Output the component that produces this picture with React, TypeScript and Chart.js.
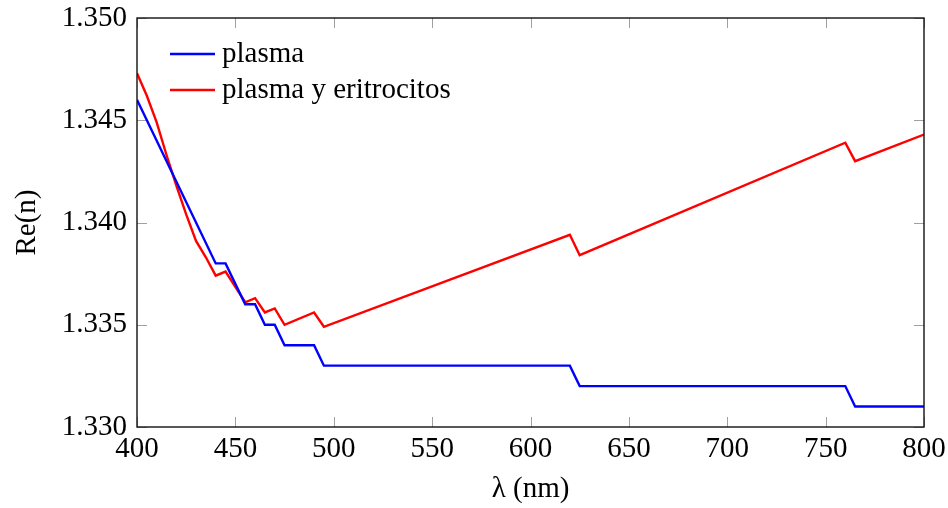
import React, { useEffect, useRef } from "react";
import { Chart, registerables } from "chart.js";

Chart.register(...registerables);

// ---- data ----
const plasmaWavelengths = [400, 440, 445, 455, 460, 465, 470, 475, 490, 495, 620, 625, 760, 765, 800];
const plasmaValues = [1.346, 1.338, 1.338, 1.336, 1.336, 1.335, 1.335, 1.334, 1.334, 1.333, 1.333, 1.332, 1.332, 1.331, 1.331];

const bloodWavelengths = [400, 405, 410, 415, 420, 425, 430, 435, 440, 445, 455, 460, 465, 470, 475, 490, 495, 620, 625, 760, 765, 800];
const bloodValues = [1.3473, 1.3462, 1.3449, 1.3433, 1.3418, 1.3404, 1.3391, 1.3383, 1.3374, 1.3376, 1.3361, 1.3363, 1.3356, 1.3358, 1.335, 1.3356, 1.3349, 1.3394, 1.3384, 1.3439, 1.343, 1.3443];

const seriesLabels = ["plasma", "plasma y eritrocitos"];
const seriesColors = ["#0000ff", "#ff0000"];
const xTitle = "λ (nm)";
const yTitle = "Re(n)";

const FONT = "'Liberation Serif', 'DejaVu Serif', serif";
const FS = 29;

const zeroPad = (s: any) => {
  s.paddingLeft = 0;
  s.paddingRight = 0;
  s.paddingTop = 0;
  s.paddingBottom = 0;
};

const framePlugin = {
  id: "frameTicks",
  beforeDatasetsDraw(chart: any) {
    const { ctx, chartArea: a, scales } = chart;
    ctx.save();
    ctx.strokeStyle = "#a0a0a0";
    ctx.lineWidth = 1;
    const L = 10;
    scales.x.ticks.forEach((t: any) => {
      const px = Math.round(scales.x.getPixelForValue(t.value)) + 0.5;
      ctx.beginPath();
      ctx.moveTo(px, a.bottom);
      ctx.lineTo(px, a.bottom - L);
      ctx.moveTo(px, a.top);
      ctx.lineTo(px, a.top + L);
      ctx.stroke();
    });
    scales.y.ticks.forEach((t: any) => {
      const py = Math.round(scales.y.getPixelForValue(t.value)) + 0.5;
      ctx.beginPath();
      ctx.moveTo(a.left, py);
      ctx.lineTo(a.left + L, py);
      ctx.moveTo(a.right, py);
      ctx.lineTo(a.right - L, py);
      ctx.stroke();
    });
    ctx.restore();
  },
  afterDraw(chart: any) {
    const { ctx, chartArea: a } = chart;
    ctx.save();
    ctx.strokeStyle = "#111";
    ctx.lineWidth = 1.4;
    ctx.strokeRect(a.left, a.top, a.right - a.left, a.bottom - a.top);
    // legend
    ctx.font = `${FS}px ${FONT}`;
    ctx.textBaseline = "middle";
    ctx.textAlign = "left";
    chart.data.datasets.forEach((ds: any, i: number) => {
      const y = a.top + 36 + i * 36;
      ctx.strokeStyle = ds.borderColor;
      ctx.lineWidth = 2.4;
      ctx.beginPath();
      ctx.moveTo(a.left + 33, y);
      ctx.lineTo(a.left + 78, y);
      ctx.stroke();
      ctx.fillStyle = "#000";
      ctx.fillText(ds.label, a.left + 85, y);
    });
    ctx.restore();
  },
};

export default function App() {
  const ref = useRef<HTMLCanvasElement>(null);
  useEffect(() => {
    if (!ref.current) return;
    const chart = new Chart(ref.current, {
      type: "line",
      data: {
        datasets: [
          {
            label: seriesLabels[0],
            data: plasmaWavelengths.map((x, i) => ({ x, y: plasmaValues[i] })),
            borderColor: seriesColors[0],
            backgroundColor: seriesColors[0],
            borderWidth: 2.4,
            pointRadius: 0,
            tension: 0,
          },
          {
            label: seriesLabels[1],
            data: bloodWavelengths.map((x, i) => ({ x, y: bloodValues[i] })),
            borderColor: seriesColors[1],
            backgroundColor: seriesColors[1],
            borderWidth: 2.4,
            pointRadius: 0,
            tension: 0,
          },
        ],
      },
      options: {
        animation: false,
        responsive: false,
        devicePixelRatio: 1,
        layout: { padding: { left: 0, right: 24, top: 18, bottom: 0 } },
        plugins: { legend: { display: false }, tooltip: { enabled: false } },
        scales: {
          x: {
            type: "linear",
            min: 400,
            max: 800,
            grid: { display: false, drawTicks: false },
            border: { display: false },
            ticks: {
              stepSize: 50,
              padding: 5,
              color: "#000",
              font: { family: FONT, size: FS },
              maxRotation: 0,
            },
            title: {
              display: true,
              text: xTitle,
              color: "#000",
              font: { family: FONT, size: FS },
              padding: { top: 0, bottom: 1 },
            },
            afterFit: (s: any) => {
              s.height = 81;
              zeroPad(s);
            },
          },
          y: {
            type: "linear",
            min: 1.33,
            max: 1.35,
            grid: { display: false, drawTicks: false },
            border: { display: false },
            ticks: {
              stepSize: 0.005,
              padding: 10,
              color: "#000",
              font: { family: FONT, size: FS },
              callback: (v: any) => Number(v).toFixed(3),
            },
            title: {
              display: true,
              text: yTitle,
              color: "#000",
              font: { family: FONT, size: FS },
              padding: { top: 10, bottom: 0 },
            },
            afterFit: (s: any) => {
              s.width = 137;
              zeroPad(s);
            },
          },
        },
      },
      plugins: [framePlugin],
    });
    return () => chart.destroy();
  }, []);
  return (
    <div style={{ position: "absolute", left: 0, top: 0, width: 948, height: 508 }}>
      <canvas ref={ref} width={948} height={508} />
    </div>
  );
}
